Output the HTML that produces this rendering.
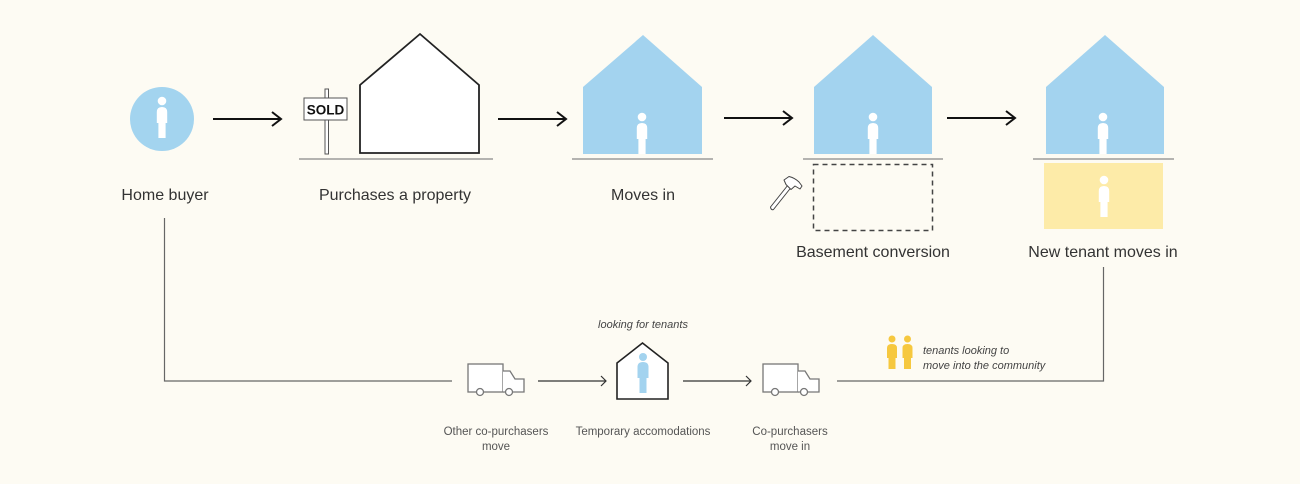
<!DOCTYPE html>
<html><head><meta charset="utf-8"><style>
html,body{margin:0;padding:0;background:#fdfbf3;}
svg{display:block}
text{font-family:"Liberation Sans",sans-serif;}
</style></head><body>
<svg width="1300" height="484" viewBox="0 0 1300 484" xmlns="http://www.w3.org/2000/svg">
<defs>
<g id="person">
  <circle cx="0" cy="-37" r="4.3"/>
  <path d="M-5.2,-26 Q-5.2,-31 0,-31 Q5.2,-31 5.2,-26 L5.2,-15 L3.6,-15 L3.6,0 L-3.6,0 L-3.6,-15 L-5.2,-15 Z"/>
</g>
</defs>
<rect width="1300" height="484" fill="#fdfbf3"/>

<!-- Home buyer -->
<circle cx="162" cy="119" r="32" fill="#a3d4ef"/>
<g fill="#fff" transform="translate(162,138)"><use href="#person"/></g>
<text x="165" y="200" font-size="16" fill="#333" text-anchor="middle">Home buyer</text>

<!-- Arrows top -->
<g stroke="#111" stroke-width="2" fill="none">
<line x1="213" y1="119" x2="281" y2="119"/>
<polyline points="272,112 281,119 272,126"/>
<line x1="498" y1="119" x2="566" y2="119"/>
<polyline points="557,112 566,119 557,126"/>
<line x1="724" y1="118" x2="792" y2="118"/>
<polyline points="783,111 792,118 783,125"/>
<line x1="947" y1="118" x2="1015" y2="118"/>
<polyline points="1006,111 1015,118 1006,125"/>
</g>

<!-- Purchase -->
<rect x="325" y="89" width="3.5" height="65" fill="#fff" stroke="#555" stroke-width="1"/>
<rect x="304" y="98" width="43" height="22" fill="#fff" stroke="#555" stroke-width="1"/>
<text x="325.5" y="114.5" font-size="13.5" font-weight="bold" fill="#111" text-anchor="middle">SOLD</text>
<polygon points="360,153 360,85 420,34 479,85 479,153" fill="#fff" stroke="#222" stroke-width="1.8" stroke-linejoin="miter"/>
<line x1="299" y1="159" x2="493" y2="159" stroke="#888" stroke-width="1.2"/>
<text x="395" y="200" font-size="16" fill="#333" text-anchor="middle">Purchases a property</text>

<!-- Moves in -->
<polygon points="583,154 583,87 643,35 702,87 702,154" fill="#a3d3ef"/>
<g fill="#fff" transform="translate(642,154)"><use href="#person"/></g>
<line x1="572" y1="159" x2="713" y2="159" stroke="#888" stroke-width="1.2"/>
<text x="643" y="200" font-size="16" fill="#333" text-anchor="middle">Moves in</text>

<!-- Basement conversion -->
<polygon points="814,154 814,87 873,35 932,87 932,154" fill="#a3d3ef"/>
<g fill="#fff" transform="translate(873,154)"><use href="#person"/></g>
<line x1="803" y1="159" x2="943" y2="159" stroke="#888" stroke-width="1.2"/>
<rect x="813.5" y="164.5" width="119" height="66" fill="none" stroke="#444" stroke-width="1.5" stroke-dasharray="5,4"/>
<!-- hammer -->
<g stroke="#444" stroke-width="1" fill="#fff" stroke-linejoin="round">
  <path d="M770.5,207 L788,185 L791,187.5 L773.5,209.5 Q771,210.5 770.5,207 Z"/>
  <path d="M784,180 L789,176.5 Q795,178 799,182 L802,186 L800,189 L795,186 L791,189.5 L786,184.5 Z"/>
</g>
<text x="873" y="257" font-size="16" fill="#333" text-anchor="middle">Basement conversion</text>

<!-- New tenant -->
<polygon points="1046,154 1046,87 1105,35 1164,87 1164,154" fill="#a3d3ef"/>
<g fill="#fff" transform="translate(1103,154)"><use href="#person"/></g>
<line x1="1033" y1="159" x2="1174" y2="159" stroke="#888" stroke-width="1.2"/>
<rect x="1044" y="163" width="119" height="66" fill="#fdeba8"/>
<g fill="#fff" transform="translate(1104,217)"><use href="#person"/></g>
<text x="1103" y="257" font-size="16" fill="#333" text-anchor="middle">New tenant moves in</text>

<!-- Bottom flow lines -->
<g stroke="#666" stroke-width="1.2" fill="none">
<polyline points="164.5,218 164.5,381 452,381"/>
<polyline points="837,381 1103.5,381 1103.5,267"/>
</g>
<g stroke="#333" stroke-width="1.2" fill="none">
<line x1="538" y1="381" x2="606" y2="381"/>
<polyline points="601,376 606,381 601,386"/>
<line x1="683" y1="381" x2="751" y2="381"/>
<polyline points="746,376 751,381 746,386"/>
</g>

<!-- Trucks -->
<g id="truck" stroke="#777" stroke-width="1.3" fill="#fff">
  <rect x="468" y="364" width="35" height="28"/>
  <path d="M503,371 L510,371 L515,379 L524,379 L524,392 L503,392"/>
  <circle cx="480" cy="392" r="3.5"/>
  <circle cx="509" cy="392" r="3.5"/>
</g>
<use href="#truck" transform="translate(295,0)"/>

<!-- Temp house -->
<polygon points="617,399 617,363 642.5,343 668,363 668,399" fill="#fff" stroke="#222" stroke-width="1.6"/>
<circle cx="643" cy="357" r="4" fill="#a3d3ef"/>
<path d="M637.5,367 Q637.5,362 643,362 Q648.5,362 648.5,367 L648.5,378 L646.5,378 L646.5,393 L639.5,393 L639.5,378 L637.5,378 Z" fill="#a3d3ef"/>
<text x="643" y="328" font-size="11" font-style="italic" fill="#444" text-anchor="middle">looking for tenants</text>

<!-- Small labels -->
<g font-size="11.5" fill="#555" text-anchor="middle">
<text x="496" y="435">Other co-purchasers</text>
<text x="496" y="450">move</text>
<text x="643" y="435">Temporary accomodations</text>
<text x="790" y="435">Co-purchasers</text>
<text x="790" y="450">move in</text>
</g>

<!-- Yellow tenants -->
<g fill="#f6c83f">
  <circle cx="892" cy="339" r="3.5"/>
  <path d="M887,348 Q887,344 892,344 Q897,344 897,348 L897,358 L895.5,358 L895.5,369 L888.5,369 L888.5,358 L887,358 Z"/>
  <circle cx="907.5" cy="339" r="3.5"/>
  <path d="M902.5,348 Q902.5,344 907.5,344 Q912.5,344 912.5,348 L912.5,358 L911,358 L911,369 L904,369 L904,358 L902.5,358 Z"/>
</g>
<text x="923" y="354" font-size="11" font-style="italic" fill="#444">tenants looking to</text>
<text x="923" y="369" font-size="11" font-style="italic" fill="#444">move into the community</text>
</svg>
</body></html>
